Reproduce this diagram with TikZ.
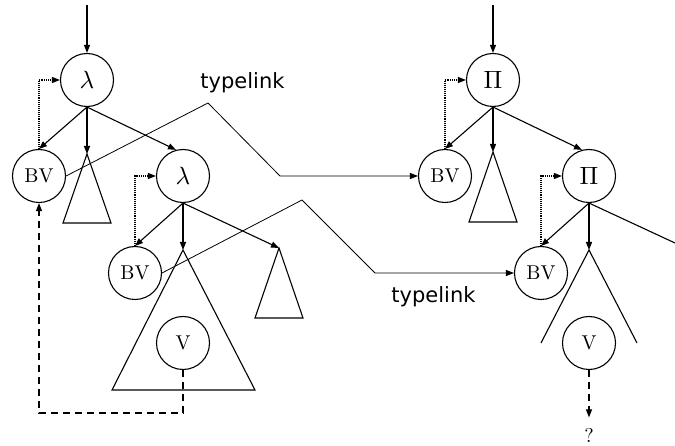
\documentclass[tikz,border=0pt]{standalone}
\usepackage{fontspec}
\usepackage{graphicx}
\newfontfamily\linkfont{DejaVu Sans}
\usetikzlibrary{arrows.meta}
\newcommand{\bigtxt}[1]{\scalebox{2}{#1}}
\newcommand{\bigsym}[1]{\scalebox{2.5}{#1}}
\begin{document}
\begin{tikzpicture}[x=1pt,y=-1pt,line width=1.1pt,
  term/.style={circle,draw,minimum size=53pt,inner sep=0pt},
  arr/.style={-{Triangle[length=8pt,width=6pt]}},
  bindlink/.style={arr,densely dotted},
  varlink/.style={arr,dash pattern=on 7pt off 5pt},
  linklabel/.style={anchor=base,inner sep=0pt,font=\linkfont\fontsize{21}{24}\selectfont},
  qmark/.style={inner xsep=2pt,inner ysep=10pt}]
\useasboundingbox (0,0) rectangle (675,446);
% ---------- left tree ----------
\coordinate (top1) at (87,5);
\node[term] (lam1) at (87,80) {\bigsym{$\lambda$}};
\node[term] (bv1) at (39,176) {\bigtxt{BV}};
\coordinate (t1a) at (87,154);
\coordinate (t1l) at (63,223);
\coordinate (t1r) at (111,223);
\node[term] (lam2) at (183,176) {\bigsym{$\lambda$}};
\node[term] (bv2) at (135,273) {\bigtxt{BV}};
\coordinate (t2a) at (183,250);
\coordinate (t2l) at (112,390);
\coordinate (t2r) at (255,390);
\coordinate (t3a) at (279,248);
\coordinate (t3l) at (255,318);
\coordinate (t3r) at (303,318);
\node[term] (v1) at (183,343) {\bigtxt{V}};
\coordinate (dl) at (39,413);
% ---------- right tree ----------
\coordinate (top2) at (493,5);
\node[term] (pi1) at (493,80) {\bigsym{$\Pi$}};
\node[term] (bv3) at (445,176) {\bigtxt{BV}};
\coordinate (t4a) at (493,152);
\coordinate (t4l) at (469,222);
\coordinate (t4r) at (517,222);
\node[term] (pi2) at (589,176) {\bigsym{$\Pi$}};
\node[term] (bv4) at (541,273) {\bigtxt{BV}};
\coordinate (t5a) at (589,250);
\coordinate (t5l) at (541,343);
\coordinate (t5r) at (637,343);
\coordinate (cut) at (675,243);
\node[term] (v2) at (589,343) {\bigtxt{V}};
\node[qmark] (q) at (589,435) {\bigtxt{?}};
% ---------- typelinks ----------
\coordinate (k1) at (208,103);
\coordinate (k2) at (280,176);
\coordinate (k3) at (302,200);
\coordinate (k4) at (375,273);
\node[linklabel] (tl1) at (242.5,89) {typelink};
\node[linklabel] (tl2) at (433.5,303) {typelink};
% ---------- triangles ----------
\draw (t1a) -- (t1l) -- (t1r) -- cycle;
\draw (t2a) -- (t2l) -- (t2r) -- cycle;
\draw (t3a) -- (t3l) -- (t3r) -- cycle;
\draw (t4a) -- (t4l) -- (t4r) -- cycle;
\draw (t5l) -- (t5a) -- (t5r);
% ---------- tree edges ----------
\draw[arr] (top1) -- (lam1.north);
\draw[arr] (lam1.south) -- (bv1.north);
\draw[arr] (lam1.south) -- (t1a);
\draw[arr] (lam1.south) -- (lam2.105);
\draw[arr] (lam2.south) -- (bv2.north);
\draw[arr] (lam2.south) -- (t2a);
\draw[arr] (lam2.south) -- (t3a);
\draw[arr] (top2) -- (pi1.north);
\draw[arr] (pi1.south) -- (bv3.north);
\draw[arr] (pi1.south) -- (t4a);
\draw[arr] (pi1.south) -- (pi2.105);
\draw[arr] (pi2.south) -- (bv4.north);
\draw[arr] (pi2.south) -- (t5a);
\draw (pi2.south) -- (cut);
% ---------- binding links ----------
\draw[bindlink] (bv1.north) |- (lam1.west);
\draw[bindlink] (bv2.north) |- (lam2.west);
\draw[bindlink] (bv3.north) |- (pi1.west);
\draw[bindlink] (bv4.north) |- (pi2.west);
% ---------- type links ----------
\draw[arr,line width=0.8pt] (bv1.east) -- (k1) -- (k2) -- (bv3.west);
\draw[arr,line width=0.8pt] (bv2.east) -- (k3) -- (k4) -- (bv4.west);
% ---------- variable links ----------
\draw[varlink] (v1.south) |- (dl) -- (bv1.south);
\draw[varlink] (v2.south) -- (q.north);
\end{tikzpicture}
\end{document}
